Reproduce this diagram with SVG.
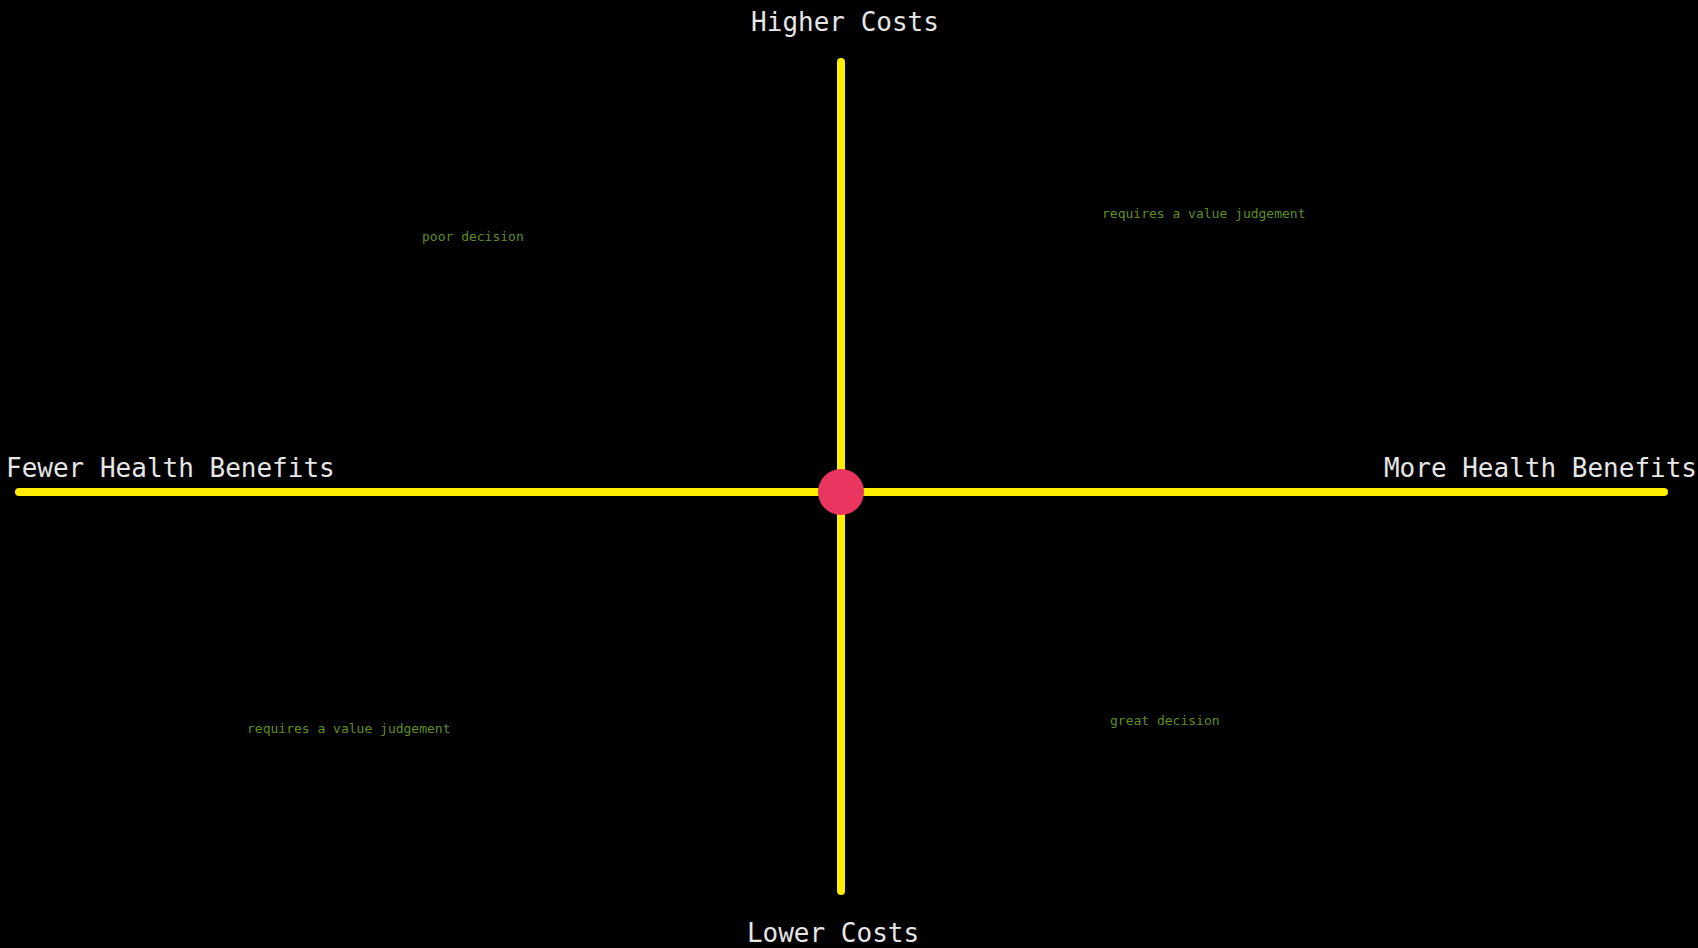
<svg xmlns="http://www.w3.org/2000/svg" width="1698" height="948" viewBox="0 0 1698 948">
<style>
.axis{stroke:#ffee00;stroke-width:8;stroke-linecap:round;fill:none}
.lbl{font-family:"DejaVu Sans Mono","Liberation Mono",monospace;font-size:26px;fill:#e6e6e6}
.q{font-family:"DejaVu Sans Mono","Liberation Mono",monospace;font-size:13px;fill:#5e8f20}
</style>
<rect width="1698" height="948" fill="#000"/>
<g id="connectors">
<line class="axis" x1="841" y1="62" x2="841" y2="891"/>
<line class="axis" x1="19" y1="492" x2="1664" y2="492"/>
</g>
<g id="origin"><circle cx="841" cy="492" r="23" fill="#ea3560"/></g>
<g id="higher-costs"><text class="lbl" x="845" y="31" text-anchor="middle">Higher Costs</text></g>
<g id="lower-costs"><text class="lbl" x="833" y="942" text-anchor="middle">Lower Costs</text></g>
<g id="fewer-benefits"><text class="lbl" x="6" y="477">Fewer Health Benefits</text></g>
<g id="more-benefits"><text class="lbl" x="1697" y="477" text-anchor="end">More Health Benefits</text></g>
<g id="poor-decision"><text class="q" x="422" y="241">poor decision</text></g>
<g id="value-judgement-top"><text class="q" x="1102" y="218">requires a value judgement</text></g>
<g id="value-judgement-bottom"><text class="q" x="247" y="733">requires a value judgement</text></g>
<g id="great-decision"><text class="q" x="1110" y="725">great decision</text></g>
</svg>
